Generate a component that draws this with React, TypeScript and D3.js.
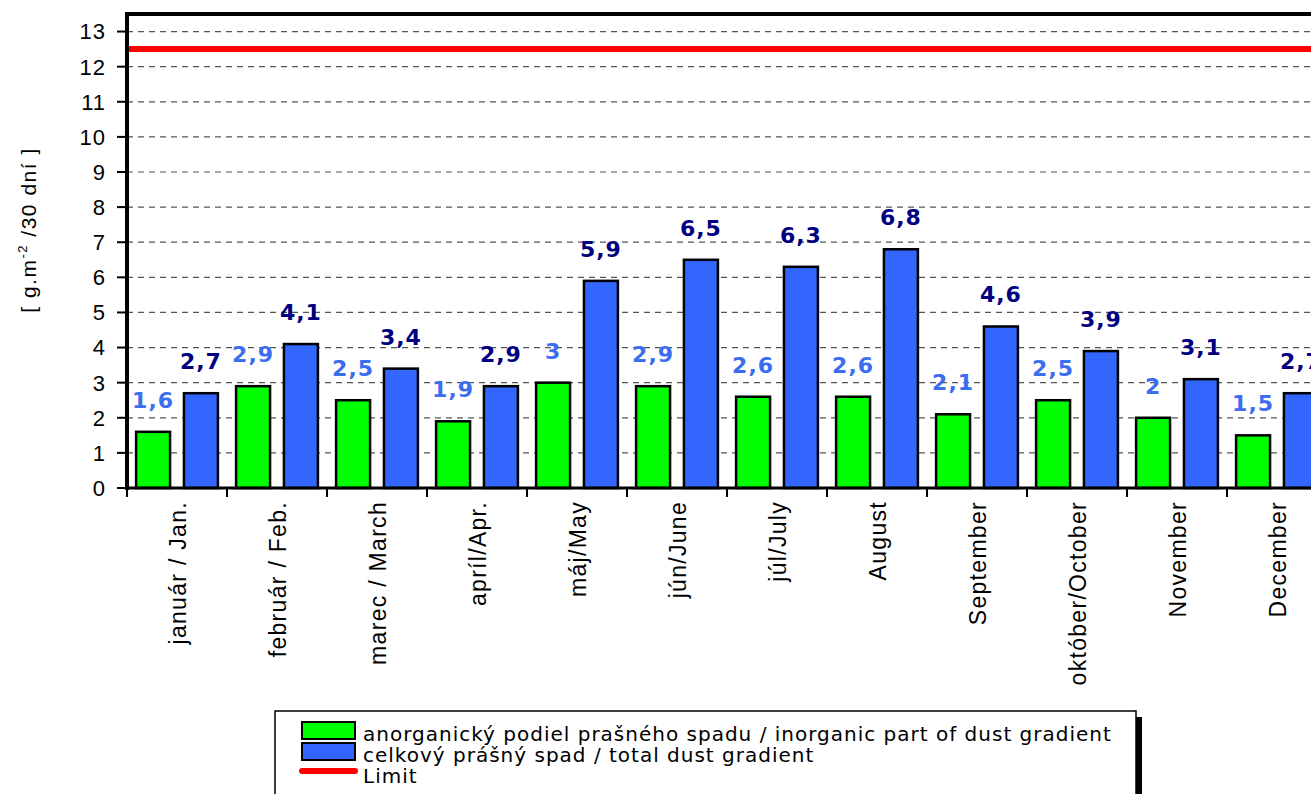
import React, { useRef, useEffect } from "react";
import * as d3 from "d3";

const months = [
    "január / Jan.", "február / Feb.", "marec / March", "apríl/Apr.", "máj/May", "jún/June",
    "júl/July", "August", "September", "október/October", "November", "December",
];
const inorganic = [1.6, 2.9, 2.5, 1.9, 3.0, 2.9, 2.6, 2.6, 2.1, 2.5, 2.0, 1.5];
const total = [2.7, 4.1, 3.4, 2.9, 5.9, 6.5, 6.3, 6.8, 4.6, 3.9, 3.1, 2.7];
const limit = 12.5;
const yTicks = d3.range(0, 14);
const legendLabels = [
    "anorganický podiel prašného spadu / inorganic part of dust gradient",
    "celkový prášný spad / total dust gradient",
    "Limit",
];

const W = 1311;
const H = 794;

const App: React.FC = () => {
    const ref = useRef<SVGSVGElement>(null);

    useEffect(() => {
        if (!ref.current) return;
        const svg = d3.select(ref.current);
        svg.selectAll("*").remove();

        const left = 127, top = 14, bottom = 488;
        const x = d3.scaleBand<string>().domain(months).range([left, left + 1200]);
        const inner = d3.scaleBand<string>()
            .domain(["g", "b"])
            .range([0, x.bandwidth()])
            .paddingInner(0.29)
            .paddingOuter(0.19);
        const y = d3.scaleLinear().domain([0, 13.5]).range([bottom, top]);

        // grid
        svg.append("g")
            .selectAll("line")
            .data(yTicks.filter(d => d > 0))
            .enter()
            .append("line")
            .attr("x1", left).attr("x2", W)
            .attr("y1", d => y(d)).attr("y2", d => y(d))
            .attr("stroke", "#555")
            .attr("stroke-width", 1.2)
            .attr("stroke-dasharray", "6,5");

        // limit
        svg.append("line")
            .attr("x1", left).attr("x2", W)
            .attr("y1", y(limit)).attr("y2", y(limit))
            .attr("stroke", "#ff0000")
            .attr("stroke-width", 6);

        const groups = svg.append("g")
            .selectAll("g")
            .data(months)
            .enter()
            .append("g")
            .attr("transform", d => `translate(${x(d)},0)`);

        groups.append("rect")
            .attr("x", inner("g")!)
            .attr("width", inner.bandwidth())
            .attr("y", (_, i) => y(inorganic[i]))
            .attr("height", (_, i) => bottom - y(inorganic[i]))
            .attr("fill", "#00ff00")
            .attr("stroke", "#000")
            .attr("stroke-width", 2.5);

        groups.append("rect")
            .attr("x", inner("b")!)
            .attr("width", inner.bandwidth())
            .attr("y", (_, i) => y(total[i]))
            .attr("height", (_, i) => bottom - y(total[i]))
            .attr("fill", "#3366ff")
            .attr("stroke", "#000")
            .attr("stroke-width", 2.5);

        const fmt = (v: number) => String(v).replace(".", ",");
        const labelStyle = (sel: d3.Selection<SVGTextElement, string, SVGGElement, unknown>) =>
            sel.attr("text-anchor", "middle")
                .attr("font-family", "'DejaVu Sans', sans-serif")
                .attr("font-weight", "bold")
                .attr("font-size", 22)
                .attr("letter-spacing", 1);

        groups.append("text")
            .call(labelStyle)
            .attr("x", inner("g")! + inner.bandwidth() / 2)
            .attr("y", (_, i) => y(inorganic[i]) - 24)
            .attr("fill", "#3a6df0")
            .text((_, i) => fmt(inorganic[i]));

        groups.append("text")
            .call(labelStyle)
            .attr("x", inner("b")! + inner.bandwidth() / 2)
            .attr("y", (_, i) => y(total[i]) - 24)
            .attr("fill", "#000080")
            .text((_, i) => fmt(total[i]));

        // frame
        svg.append("line").attr("x1", left).attr("x2", W).attr("y1", top).attr("y2", top)
            .attr("stroke", "#000").attr("stroke-width", 4);
        svg.append("line").attr("x1", left).attr("x2", left).attr("y1", top - 2).attr("y2", bottom + 2)
            .attr("stroke", "#000").attr("stroke-width", 4);
        svg.append("line").attr("x1", left).attr("x2", W).attr("y1", bottom).attr("y2", bottom)
            .attr("stroke", "#000").attr("stroke-width", 3);

        // y ticks
        const yAxis = svg.append("g");
        yAxis.selectAll("line")
            .data(yTicks)
            .enter()
            .append("line")
            .attr("x1", left - 10).attr("x2", left)
            .attr("y1", d => y(d)).attr("y2", d => y(d))
            .attr("stroke", "#000").attr("stroke-width", 2);
        yAxis.selectAll("text")
            .data(yTicks)
            .enter()
            .append("text")
            .attr("x", 106)
            .attr("y", d => y(d))
            .attr("dy", "0.36em")
            .attr("text-anchor", "end")
            .attr("font-family", "'Liberation Sans', Arial, sans-serif")
            .attr("font-size", 22)
            .attr("letter-spacing", 1)
            .text(d => d);

        // x ticks
        const xAxis = svg.append("g");
        xAxis.selectAll("line")
            .data(months)
            .enter()
            .append("line")
            .attr("x1", d => x(d)!).attr("x2", d => x(d)!)
            .attr("y1", bottom).attr("y2", bottom + 9)
            .attr("stroke", "#000").attr("stroke-width", 2);
        xAxis.selectAll("text")
            .data(months)
            .enter()
            .append("text")
            .attr("transform", d => `translate(${x(d)! + x.bandwidth() / 2 + 9},${bottom + 13}) rotate(-90)`)
            .attr("text-anchor", "end")
            .attr("font-family", "'Liberation Sans', Arial, sans-serif")
            .attr("font-size", 23)
            .attr("letter-spacing", 1.3)
            .text(d => d);

        // y title
        const yt = svg.append("text")
            .attr("transform", `translate(36,230) rotate(-90)`)
            .attr("text-anchor", "middle")
            .attr("font-family", "'Liberation Sans', Arial, sans-serif")
            .attr("font-size", 21)
            .attr("letter-spacing", 1.5);
        yt.append("tspan").text("[ g.m");
        yt.append("tspan").attr("font-size", 13).attr("dy", -9).text("-2");
        yt.append("tspan").attr("dy", 9).text(" /30 dní ]");

        // legend
        const lg = svg.append("g");
        lg.append("rect").attr("x", 1136).attr("y", 717).attr("width", 6).attr("height", 100).attr("fill", "#000");
        lg.append("rect").attr("x", 275).attr("y", 711).attr("width", 861).attr("height", 100)
            .attr("fill", "#fff").attr("stroke", "#000").attr("stroke-width", 1.5);
        const swatch = ["#00ff00", "#3366ff"];
        swatch.forEach((c, i) => {
            lg.append("rect").attr("x", 302).attr("y", 722 + i * 21).attr("width", 53).attr("height", 17)
                .attr("fill", c).attr("stroke", "#000").attr("stroke-width", 2);
        });
        lg.append("line").attr("x1", 302).attr("x2", 355).attr("y1", 771).attr("y2", 771)
            .attr("stroke", "#ff0000").attr("stroke-width", 6).attr("stroke-linecap", "round");
        lg.selectAll("text.leg")
            .data(legendLabels)
            .enter()
            .append("text")
            .attr("class", "leg")
            .attr("x", 363)
            .attr("y", (_, i) => 741 + i * 21)
            .attr("font-family", "'DejaVu Sans', sans-serif")
            .attr("font-size", 20)
            .attr("letter-spacing", 1)
            .text(d => d);
    }, []);

    return (
        <div style={{ position: "fixed", left: 0, top: 0, width: W, height: H, background: "#fff" }}>
            <svg ref={ref} width={W} height={H} />
        </div>
    );
};

export default App;
